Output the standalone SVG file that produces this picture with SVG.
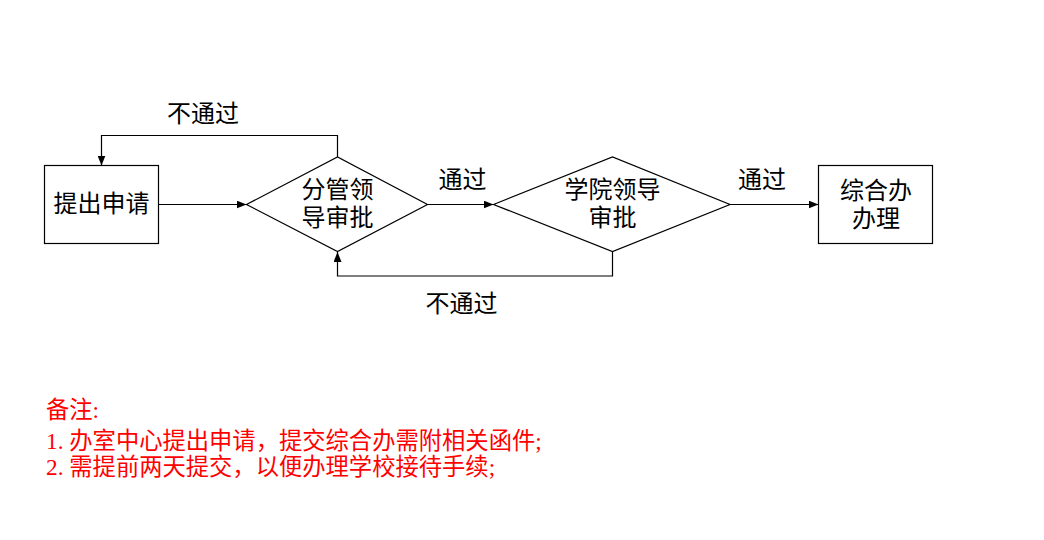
<svg xmlns="http://www.w3.org/2000/svg" width="1044" height="540" viewBox="0 0 1044 540">
<style>
.shape{fill:#fff;stroke:#000;stroke-width:1.2}
.edge{fill:none;stroke:#000;stroke-width:1.2}
text{font-family:"Noto Sans CJK SC","Liberation Sans",sans-serif;font-size:24px;fill:#000}
.c{text-anchor:middle}
.note{font-family:"Liberation Serif","Noto Sans CJK SC",serif;font-size:23.3px;fill:#ff0000}
</style>
<defs>
<marker id="arr" markerWidth="10" markerHeight="8" refX="10" refY="4" orient="auto" markerUnits="userSpaceOnUse">
<path d="M0,0 L10,4 L0,8 Z" fill="#000"/>
</marker>
</defs>
<rect width="1044" height="540" fill="#fff"/>
<g id="connectors">
<line class="edge" x1="158.5" y1="204.5" x2="246.5" y2="204.5" marker-end="url(#arr)"/>
<line class="edge" x1="427.5" y1="204.5" x2="493.5" y2="204.5" marker-end="url(#arr)"/>
<line class="edge" x1="730" y1="204.5" x2="818.5" y2="204.5" marker-end="url(#arr)"/>
<polyline class="edge" points="337.5,157 337.5,135.5 101.5,135.5 101.5,165.5" marker-end="url(#arr)"/>
<polyline class="edge" points="612.5,251.5 612.5,276 337.5,276 337.5,252" marker-end="url(#arr)"/>
<text class="c" x="203" y="122">不通过</text>
<text class="c" x="462.5" y="188">通过</text>
<text class="c" x="762" y="188">通过</text>
<text class="c" x="461.5" y="312">不通过</text>
</g>
<g id="node-apply">
<rect class="shape" x="44.5" y="165.5" width="114" height="78"/>
<text class="c" x="101.5" y="212">提出申请</text>
</g>
<g id="node-dept">
<polygon class="shape" points="246.5,204.5 337.5,157 427.5,204.5 337.5,251.5"/>
<text class="c"><tspan x="337.5" y="198">分管领</tspan><tspan x="337.5" y="226">导审批</tspan></text>
</g>
<g id="node-college">
<polygon class="shape" points="493.5,204.5 612.5,157 730,204.5 612.5,251.5"/>
<text class="c"><tspan x="612.5" y="198">学院领导</tspan><tspan x="612.5" y="226">审批</tspan></text>
</g>
<g id="node-office">
<rect class="shape" x="818.5" y="165.5" width="114" height="78"/>
<text class="c"><tspan x="876" y="199">综合办</tspan><tspan x="876" y="227">办理</tspan></text>
</g>
<g id="notes">
<text class="note"><tspan x="46" y="418">备注:</tspan><tspan x="46" y="449">1. 办室中心提出申请，提交综合办需附相关函件;</tspan><tspan x="46" y="475">2. 需提前两天提交，以便办理学校接待手续;</tspan></text>
</g>
</svg>
